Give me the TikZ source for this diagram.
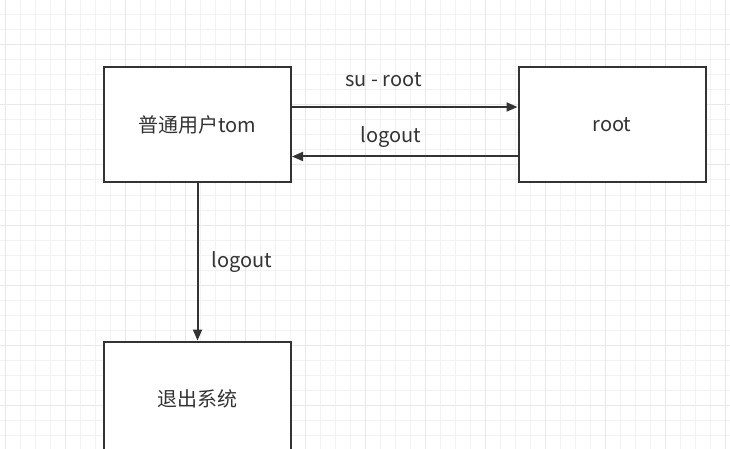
\documentclass[tikz,border=0pt]{standalone}
\usepackage{fontspec}
\setmainfont{Noto Sans CJK SC}
\usetikzlibrary{arrows.meta}
\definecolor{gridminor}{HTML}{F2F2F2}
\definecolor{gridmajor}{HTML}{E8E8E8}
\definecolor{ink}{HTML}{333333}
\tikzset{
  box/.style={draw=ink, line width=2pt, fill=white, minimum width=187pt, minimum height=115pt, inner sep=0pt, font=\fontsize{20}{22}\selectfont, text=ink},
  conn/.style={draw=ink, line width=2pt, -{Triangle[length=11pt,width=9pt]}},
  lbl/.style={font=\fontsize{20}{22}\selectfont, text=ink, inner sep=0pt}
}
\begin{document}
\begin{tikzpicture}[x=1pt,y=-1pt]
\useasboundingbox (0,0) rectangle (730,449);
\fill[white] (0,0) rectangle (730,449);
\foreach \x in {5.5,20.5,...,730} \draw[gridminor, line width=1pt] (\x,0) -- (\x,449);
\foreach \y in {0,15,...,449} \draw[gridminor, line width=1pt] (0,\y) -- (730,\y);
\foreach \x in {5.5,65.5,...,730} \draw[gridmajor, line width=1pt] (\x,0) -- (\x,449);
\foreach \y in {45,105,...,449} \draw[gridmajor, line width=1pt] (0,\y) -- (730,\y);

\node[box] (tom) at (197.5,124.5) {普通用户tom};
\node[box] (root) at (612,124.5) {root};
\node[box] (exit) at (197.5,399) {退出系统};

\coordinate (t1) at ([yshift=17.5pt]tom.east);
\coordinate (t2) at ([yshift=17.5pt]root.west);
\coordinate (r1) at ([yshift=-32pt]root.west);
\coordinate (r2) at ([yshift=-32pt]tom.east);
\draw[conn] (t1) -- (t2) node[lbl, midway, above=19pt, xshift=-21pt] (l1) {su - root};
\draw[conn] (r1) -- (r2) node[lbl, midway, above=8pt, xshift=-14pt] (l2) {logout};
\draw[conn] (tom.south) -- (exit.north) node[lbl, midway, right=13pt] (l3) {logout};
\end{tikzpicture}
\end{document}
